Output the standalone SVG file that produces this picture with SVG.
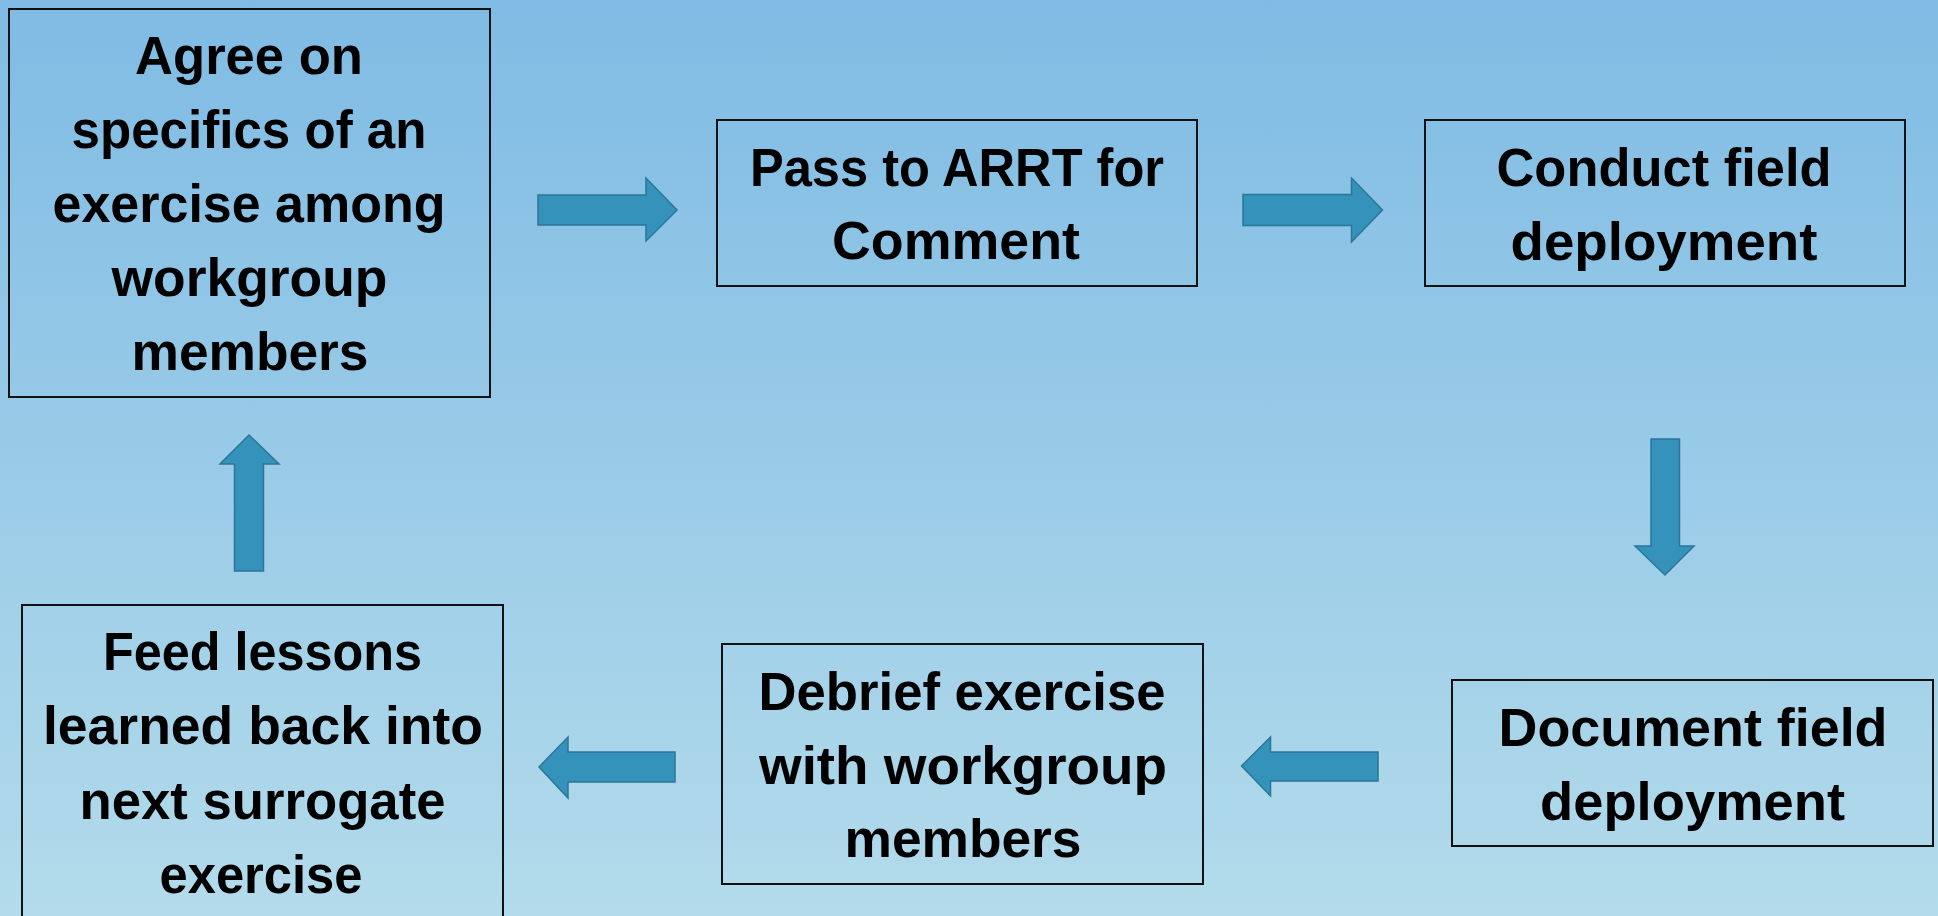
<svg xmlns="http://www.w3.org/2000/svg" width="1938" height="916" viewBox="0 0 1938 916">
<defs>
<linearGradient id="bg" x1="0" y1="0" x2="0" y2="1">
<stop offset="0" stop-color="#7fbbe4"/>
<stop offset="1" stop-color="#b3dbeb"/>
</linearGradient>
</defs>
<style>
.box{fill:none;stroke:#111;stroke-width:2}
.lbl{font-family:"Liberation Sans",Arial,sans-serif;font-weight:bold;font-size:53px;fill:#000;text-anchor:middle}
.arr{fill:#3592ba;stroke:#2b7698;stroke-width:1.5}
</style>
<rect x="0" y="0" width="1938" height="916" fill="url(#bg)"/>
<g id="n1">
<rect class="box" x="9" y="9" width="481" height="388"/>
<text class="lbl" lengthAdjust="spacingAndGlyphs"><tspan x="249" y="73.5" textLength="228" lengthAdjust="spacingAndGlyphs">Agree on</tspan></text>
<text class="lbl" x="249" y="147.5" textLength="355" lengthAdjust="spacingAndGlyphs">specifics of an</text>
<text class="lbl" x="249" y="221.5" textLength="393" lengthAdjust="spacingAndGlyphs">exercise among</text>
<text class="lbl" x="249.5" y="295.5" textLength="276" lengthAdjust="spacingAndGlyphs">workgroup</text>
<text class="lbl" x="250" y="369.5" textLength="237" lengthAdjust="spacingAndGlyphs">members</text>
</g>
<g id="n2">
<rect class="box" x="717" y="120" width="480" height="166"/>
<text class="lbl" x="957" y="185.5" textLength="414" lengthAdjust="spacingAndGlyphs">Pass to ARRT for</text>
<text class="lbl" x="956" y="259" textLength="248" lengthAdjust="spacingAndGlyphs">Comment</text>
</g>
<g id="n3">
<rect class="box" x="1425" y="120" width="480" height="166"/>
<text class="lbl" x="1664" y="186" textLength="335" lengthAdjust="spacingAndGlyphs">Conduct field</text>
<text class="lbl" x="1664" y="259.5" textLength="307" lengthAdjust="spacingAndGlyphs">deployment</text>
</g>
<g id="n4">
<rect class="box" x="1452" y="680" width="481" height="166"/>
<text class="lbl" x="1693" y="745.5" textLength="389" lengthAdjust="spacingAndGlyphs">Document field</text>
<text class="lbl" x="1692.5" y="819.5" textLength="305" lengthAdjust="spacingAndGlyphs">deployment</text>
</g>
<g id="n5">
<rect class="box" x="722" y="644" width="481" height="240"/>
<text class="lbl" x="962" y="709.5" textLength="407" lengthAdjust="spacingAndGlyphs">Debrief exercise</text>
<text class="lbl" x="963" y="783.5" textLength="408" lengthAdjust="spacingAndGlyphs">with workgroup</text>
<text class="lbl" x="963" y="857" textLength="237" lengthAdjust="spacingAndGlyphs">members</text>
</g>
<g id="n6">
<rect class="box" x="22" y="605" width="481" height="330"/>
<text class="lbl" x="262.5" y="670" textLength="319" lengthAdjust="spacingAndGlyphs">Feed lessons</text>
<text class="lbl" x="263" y="744" textLength="440" lengthAdjust="spacingAndGlyphs">learned back into</text>
<text class="lbl" x="262.5" y="818.5" textLength="366" lengthAdjust="spacingAndGlyphs">next surrogate</text>
<text class="lbl" x="261" y="892.5" textLength="203" lengthAdjust="spacingAndGlyphs">exercise</text>
</g>
<g id="connectors">
<polygon class="arr" points="538,195 646,195 646,178 677,210 646,241 646,225 538,225"/>
<polygon class="arr" points="1243,194.5 1351.5,194.5 1351.5,178 1382.5,210 1351.5,242 1351.5,225.5 1243,225.5"/>
<polygon class="arr" points="1651,439 1679.5,439 1679.5,546 1694,546 1665,575 1635,546 1651,546"/>
<polygon class="arr" points="1378,752 1270.5,752 1270.5,737 1241.5,766 1270.5,796 1270.5,781 1378,781"/>
<polygon class="arr" points="675,752 568,752 568,737 539,767 568,798 568,782 675,782"/>
<polygon class="arr" points="234.5,571 234.5,464 220,464 249,435 279,464 263.5,464 263.5,571"/>
</g>
</svg>
